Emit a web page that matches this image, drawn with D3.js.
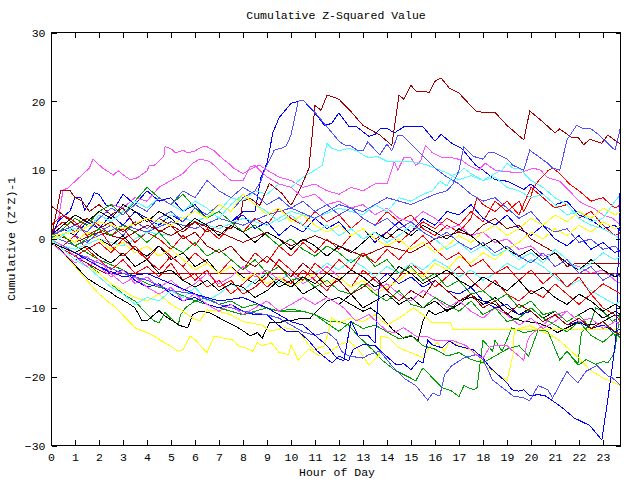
<!DOCTYPE html>
<html><head><meta charset="utf-8">
<script src="https://cdn.jsdelivr.net/npm/d3@7"></script>
<style>
html,body{margin:0;padding:0;background:#fff;}
svg text{font-family:"Liberation Mono","DejaVu Sans Mono",monospace;font-size:11.5px;fill:#000;}
</style></head>
<body><svg id="c" width="640" height="480"></svg>
<script>
// ---- data: [hour, cumulative (Z*Z)-1] ----
const title = "Cumulative Z-Squared Value";
const xLabel = "Hour of Day";
const yLabel = "Cumulative (Z*Z)-1";
const xTicks = d3.range(0, 24);
const yTicks = [-30, -20, -10, 0, 10, 20, 30];

const red1 = [[0,1],[0.5,2.5],[1,1],[1.5,3],[2,2],[2.5,0.5],[3,1.5],[3.5,-0.5],[4,1],[4.5,0],[5,-1.5],[5.5,0.5],[6,-1],[6.5,1.5],[7,0],[7.5,2],[8,1],[8.5,3],[9,2],[9.5,4.5],[10,3],[10.5,2],[11,4],[11.5,2.5],[12,3.5],[12.5,1.5],[13,3],[13.5,2],[14,4],[14.5,2.5],[15,3.5],[15.5,1.5],[16,0.5],[16.5,2],[17,1],[17.5,3],[17.75,6],[18,5],[18.5,4],[19,5.5],[19.5,3.5],[20,7.5],[20.5,6],[21,4.5],[21.5,5],[22,3],[22.5,4],[23,2],[23.5,0.5],[23.75,1]];
const green1 = [[0,0],[0.5,-1],[1,-2.5],[1.5,-3.5],[2,-5],[2.5,-6.5],[3,-8],[3.5,-9],[3.75,-10],[4.3,-11.9],[4.5,-12.2],[4.75,-10.7],[5.3,-12.5],[5.4,-11],[5.6,-10],[6,-9],[6.5,-8.5],[7,-9.5],[7.5,-9],[8,-10],[8.5,-9.5],[9,-10],[9.5,-10.5],[10.5,-10.5],[11,-11],[11.6,-12],[12,-12],[12.4,-12.5],[12.8,-14.1],[13.4,-16.1],[13.8,-17.6],[14.3,-19],[14.7,-19.7],[15.2,-20.6],[15.5,-18.7],[15.9,-20.2],[16.3,-21.6],[16.7,-22.1],[17,-22.9],[17.2,-21.3],[17.6,-21.9],[17.75,-21.6],[18,-14.7],[18.4,-16.3],[18.5,-14.7],[18.8,-16.3],[19.2,-12.9],[19.7,-13.6],[20.3,-13.2],[20.7,-13.4],[21.2,-17.6],[21.5,-16.3],[21.95,-18.3],[22.1,-13.6],[22.45,-12.5],[22.7,-10],[23,-10.5],[23.4,-12],[23.75,-11]];
const blue1 = [[0,0],[0.5,1.5],[1,0.5],[1.5,2.5],[2,1.5],[2.5,3.5],[3,2],[3.5,4],[4,3],[4.5,2],[5,3.5],[5.5,2.5],[6,4.5],[6.5,3],[7,4],[7.5,2.5],[8,4],[8.5,4],[8.75,9],[9,11],[9.25,15.5],[9.5,17.6],[10,19.7],[10.3,20],[10.5,20.2],[11,18.3],[11.4,16.5],[11.7,16.8],[11.95,18.1],[12,18.3],[12.4,16.4],[12.7,16.4],[13.25,14.9],[13.5,15.2],[13.75,16.1],[14,16.1],[14.3,15.4],[14.7,16.3],[15.5,16.3],[16,14.2],[16.25,15.2],[16.7,13.9],[17.1,13.2],[17.7,10.7],[18,10],[18.5,8.6],[19,8.4],[19.7,7.2],[20,8],[20.5,6.5],[21,5],[21.5,5.5],[22,3.5],[22.5,2.8],[23,1.5],[23.5,2],[23.75,1]];
const magenta1 = [[0,0],[0.3,2.6],[0.5,7.1],[0.7,7.4],[1.6,10.3],[1.75,11.6],[2.15,10.3],[2.6,9.3],[2.8,9.9],[3.1,9.1],[3.3,8.6],[3.6,8.9],[4,9.9],[4.1,10.7],[4.3,10.7],[4.5,11.3],[4.7,12],[4.75,13.4],[5,13.1],[5.2,12.5],[5.5,12.9],[5.7,12.5],[6,12.8],[6.3,13.4],[6.5,13.4],[6.8,12.8],[7.2,11.5],[7.4,11],[7.6,10.3],[8,9.5],[8.5,10.5],[8.7,10.7],[9,10],[9.5,9],[10,8.5],[10.5,7.5],[11,8],[11.5,7],[12,6.5],[12.5,7.5],[13,7],[13.5,8],[14,8],[14.2,10],[14.3,11.3],[14.45,10],[14.7,11.8],[15,11.8],[15.2,10.7],[15.4,11.3],[15.6,13.6],[15.9,12.5],[16.25,11.9],[16.7,11.8],[17.1,11.5],[17.4,10.7],[17.8,10],[18,10.7],[18.1,11],[18.5,10],[18.7,9.9],[19.5,9.6],[20.1,10.3],[20.4,10],[20.7,8.9],[21.2,8.4],[21.6,7],[22,5.5],[22.3,4.9],[22.6,4.5],[23,3.5],[23.4,3],[23.75,2]];
const cyan1 = [[0,0],[1,1.5],[2,0.5],[3,2],[4,1],[5,3.5],[6,2.5],[7,4],[7.5,6],[8,5.5],[8.5,7],[9,6.5],[9.5,8],[10,7.5],[10.5,9],[11,10],[11.3,10.7],[11.5,13.9],[11.7,13.2],[12,12.8],[12.4,13.2],[12.75,12.8],[13.1,12],[13.3,11.8],[13.6,12],[14,11.3],[14.9,11.3],[15.4,11],[15.7,10.7],[16,10.3],[16.5,9.6],[17,8.6],[17.5,9.2],[18,8.5],[18.5,9.5],[18.8,10],[19,11],[19.25,10.3],[19.5,10.3],[20,8.5],[20.5,7.5],[21,6],[21.5,5],[22,3],[22.5,2],[23,1.5],[23.5,0.5],[23.75,0]];
const darkRed1 = [[0,4.8],[0.5,3.5],[1,2],[1.5,3],[2,1.5],[2.5,2.5],[3,1],[3.5,2.5],[4,1.5],[4.5,3],[5,2],[5.5,1],[6,2.5],[6.5,1],[7,2],[7.5,1.5],[7.9,3.3],[8,5.5],[8.3,5.9],[8.7,4.9],[9.1,8.1],[9.6,6.7],[10,4.9],[10.4,7.4],[10.75,10.3],[11,19.4],[11.25,18.7],[11.5,20.9],[11.7,20.7],[12,20.3],[12.5,18.5],[13,16.5],[13.7,15.1],[14.2,13.6],[14.5,20.9],[14.7,20.3],[15,22.3],[15.2,21.5],[15.6,21.5],[15.75,21.2],[16,22.9],[16.25,23.4],[16.6,21.9],[17,21.2],[17.4,19.7],[17.7,18.6],[18,18.4],[18.5,18.4],[19,16.5],[19.7,14.4],[19.95,18.6],[20.5,17],[21,15.4],[21.2,16],[21.7,14.7],[21.95,14.8],[22.2,13.7],[22.45,14.5],[22.95,13.9],[23.2,15.1],[23.75,13.7]];
const yellow1 = [[0,0],[0.5,-2],[1,-4],[1.5,-6],[2,-8],[2.7,-10],[3.5,-12.9],[4,-13.6],[4.3,-14.1],[4.6,-14.8],[4.9,-15.4],[5.3,-16.3],[5.5,-16.1],[5.8,-14.1],[6,-14.6],[6.5,-16.5],[6.8,-14.1],[7.2,-14.4],[7.6,-14.7],[7.8,-15.5],[8.1,-15.8],[8.4,-16.3],[8.6,-15.1],[8.8,-15.5],[9.2,-15.1],[9.5,-16.5],[9.9,-16.8],[10,-15.4],[10.3,-17.6],[10.75,-16],[11.2,-17],[11.6,-16.5],[12,-15.4],[12.4,-14.8],[12.8,-16],[13.25,-18.3],[13.7,-16.8],[13.75,-14.1],[14.1,-14.4],[14.5,-15.8],[15.2,-16.8],[15.5,-17.3],[15.75,-15.8],[16.1,-15.1],[16.4,-16.3],[16.6,-14.8],[17,-15.5],[17.4,-16.1],[17.7,-16.5],[18,-18],[18.2,-18.7],[19,-20.6],[19.25,-16.8],[19.3,-13.4],[19.5,-13],[19.95,-12.6],[20.5,-13.5],[20.9,-14.1],[21.2,-14.8],[22,-17.3],[22.45,-19],[23,-20.2],[23.75,-21.3]];
const black1 = [[0,-0.6],[0.4,-1.5],[1,-3.8],[1.5,-5.7],[2,-6.8],[2.5,-7.8],[2.7,-8.3],[3.2,-9.3],[3.5,-10],[3.8,-11.9],[4,-11.9],[4.5,-10.4],[4.75,-11.2],[5.2,-12.2],[5.4,-12.6],[5.7,-12.9],[5.9,-11],[6.2,-10.5],[6.6,-10.7],[7.25,-11.9],[7.6,-12.5],[7.95,-13.2],[8.3,-14.1],[8.6,-13.6],[8.8,-14.4],[9.1,-12.2],[9.5,-12.2],[9.8,-11.8],[10.1,-11.8],[10.45,-11.5],[10.8,-11.5],[11.1,-10.4],[11.5,-9],[12,-8.5],[12.5,-9.5],[13,-10.5],[13.3,-10],[13.7,-11],[14.25,-13.2],[14.7,-14.4],[15,-14.1],[15.3,-14.7],[15.5,-11.9],[15.75,-10.4],[16,-11],[16.7,-10],[17,-9],[17.5,-8.5],[18,-9],[18.5,-9.5],[18.7,-10],[19.25,-11.5],[19.6,-11.9],[20.3,-12.2],[20.8,-12.9],[21.1,-13.6],[21.9,-12.2],[22.45,-12.5],[22.9,-12.2],[23.4,-11.2],[23.75,-11]];
const lightBlue1 = [[0,0],[0.5,-1],[1,0.5],[1.5,-0.5],[2,1],[2.5,2],[3,0.5],[3.5,2.5],[4,1.5],[4.5,3],[5,4],[5.5,2.5],[6,4.5],[6.5,3.5],[7,5],[7.5,4],[8,6],[8.5,7],[8.75,8.5],[8.9,10],[9.3,12.9],[9.6,13.2],[9.8,13.5],[10,15.1],[10.3,20],[10.5,20.2],[11,18.4],[12,14.2],[12.2,13.7],[12.5,13.5],[12.8,12.8],[13,12.8],[13.2,14.1],[13.7,12.2],[14,13.8],[14.2,12.8],[14.45,15.1],[14.65,15],[16,10.3],[16.5,9],[17,8],[17.5,6.5],[18,5.5],[18.5,6],[19,4.5],[19.5,3],[20,4],[20.5,2],[21,1],[21.5,1.5],[22,-0.5],[22.5,0],[23,-1.5],[23.5,-1],[23.75,-2]];

const red2 = [[0,0],[0.5,-1],[1,0.5],[1.5,-1.5],[2,-0.5],[2.5,-2],[3,0],[3.5,-1.5],[4,-3],[4.5,-1],[5,-2.5],[5.5,-4],[6,-2],[6.5,-3.5],[7,-5],[7.5,-3],[8,-4.5],[8.5,-2],[9,-3.5],[9.5,-1],[10,-2.5],[10.5,-0.5],[11,-2],[11.5,0],[12,-1.5],[12.5,0.5],[13,1.5],[13.5,0],[14,1],[14.5,-0.5],[15,1],[15.5,2.5],[16,1.5],[16.5,3],[17,2],[17.5,4],[18,2.5],[18.5,5.5],[19,4],[19.5,5.5],[19.7,4],[19.95,5.7],[20.1,7.4],[20.3,8.4],[20.7,9.9],[20.9,10.3],[21.2,9.5],[21.6,8],[22,7],[22.5,5.5],[23,6],[23.5,4.5],[23.75,5]];
const green2 = [[0,0.5],[1,-1],[2,-3],[3,-4.5],[4,-6.5],[5,-7.5],[6,-9],[7,-10],[7.5,-10.5],[8,-11],[9,-10],[9.5,-10.5],[10,-10.2],[10.5,-10.5],[11,-11],[11.6,-12.5],[12,-13.4],[12.5,-12],[13,-13],[13.5,-12.5],[14,-13.5],[14.5,-14.5],[15,-14],[15.5,-15.5],[16,-16],[16.5,-17],[17,-16.5],[17.5,-17.5],[18,-18],[18.5,-17],[19,-16],[19.5,-15.5],[19.9,-17],[20.3,-13.2],[20.7,-13.4],[21.2,-17.6],[21.5,-16.3],[22,-18.3],[22.3,-17.5],[22.7,-18.2],[23,-17.8],[23.2,-18],[23.4,-17],[23.5,-16],[23.75,-10]];
const blue2 = [[0,0],[0.3,2.6],[0.8,4.1],[1,6],[1.25,6],[1.4,4.2],[1.65,5.5],[1.8,6.7],[2,6.5],[2.3,4.9],[2.7,4.8],[3,6.5],[3.5,5],[4,7],[4.5,5.5],[5,6],[5.5,4],[6,5],[6.5,3],[7,4],[7.5,2.5],[8,3.5],[8.5,1.5],[9,2.5],[9.5,0.5],[10,2],[10.5,1],[11,3],[11.5,1.5],[12,2.5],[12.5,0.5],[13,1.5],[13.5,-0.5],[14,1],[14.5,2.5],[15,1],[15.5,3],[16,2],[16.5,4],[17,3.5],[17.5,5],[18,3],[18.5,2],[19,3.5],[19.5,1.5],[20,0.5],[20.5,2],[21,0],[21.5,-1],[22,0.5],[22.5,-1.5],[23,-0.5],[23.5,-2],[23.75,-1.5]];
const magenta2 = [[0,0.5],[0.5,1.5],[1,3],[1.5,2],[2,4],[2.5,5],[3,4.5],[3.5,6],[4,5.5],[4.5,7.5],[5,8.5],[5.5,9.5],[5.9,11],[6.2,11.6],[6.6,11.3],[6.8,10.7],[7,10],[7.5,8.5],[8,8.5],[8.3,10.5],[8.5,10.7],[8.7,10],[9,9],[9.5,8],[10,7.5],[10.5,6],[11,6.5],[11.5,5],[12,5.5],[12.5,4.5],[13,5],[13.5,3.5],[14,4.5],[14.5,3],[15,2.5],[15.5,4],[16,3],[16.5,1.5],[17,2],[17.5,0.5],[18,1],[18.5,-0.5],[19,0],[19.5,-1.5],[20,-1],[20.5,-2.5],[21,-2],[21.5,-3.5],[22,-4],[22.5,-5],[23,-4.5],[23.5,-6],[23.75,-6.5]];
const cyan2 = [[0,-0.5],[1,-1.5],[2,0],[3,-1],[4,1],[5,0.5],[6,2.5],[7,1.5],[8,3],[9,2],[10,4],[11,3],[12,4.5],[13,3.5],[13.5,5],[14,4],[14.5,6],[15,5.5],[15.5,6.5],[15.9,7],[16.2,8.4],[16.5,7.7],[16.75,9.3],[17,9.6],[17.2,10.3],[17.5,9.5],[18,8.5],[18.5,9],[19,7.5],[19.5,7],[20,6],[20.5,6.5],[21,5],[21.5,3.5],[22,4],[22.5,2.5],[23,3],[23.5,5.5],[23.75,6.5]];
const darkRed2 = [[0,0],[0.5,-1],[1,-2.5],[1.5,-3.5],[2,-4.5],[2.3,-5],[23.75,-5]];
const yellow2 = [[0,0],[0.5,-1.5],[1,-2.5],[1.5,-4],[2,-5],[2.5,-6.5],[3,-7.5],[3.5,-8.5],[4,-9],[4.5,-8],[5,-9.5],[5.5,-10.5],[5.9,-11.5],[6.2,-11.9],[6.5,-10.3],[7,-10.5],[7.5,-11],[8,-12],[8.8,-12.5],[9.1,-13.4],[9.75,-12.9],[10.3,-13.4],[10.75,-15.4],[10.95,-16.1],[11.4,-15.5],[11.7,-11.5],[12,-12.2],[12.5,-11.5],[13,-12],[13.5,-11],[14,-12.5],[14.5,-11.5],[15.1,-10],[15.5,-11],[15.9,-12.2],[16.65,-12.2],[16.75,-13.2],[23.75,-13.2]];
const black2 = [[0,0],[0.5,0.5],[1,-0.5],[1.5,1],[2,0],[2.5,-1],[3,0.5],[3.5,-1.5],[4,-2.5],[4.5,-1],[5,-3],[5.5,-2],[6,-4],[6.5,-3],[7,-5],[7.5,-4],[8,-5.5],[8.5,-6.5],[9,-5],[9.5,-7],[10,-6],[10.5,-8],[11,-7],[11.5,-8.5],[12,-9.5],[12.5,-8],[13,-10],[13.5,-9],[14,-8],[14.5,-9.5],[15,-8.5],[15.5,-10],[16,-9],[16.5,-10.5],[17,-9.5],[17.5,-8],[18,-9.5],[18.5,-8.5],[19,-10],[19.5,-11],[20,-10],[20.5,-11.5],[21,-10.5],[21.5,-12],[22,-11],[22.5,-10],[23,-11.5],[23.5,-10.5],[23.75,-11]];
const lightBlue2 = [[0,0.5],[1,-1],[2,0.5],[3,2],[4,1],[5,2.5],[6,1.5],[7,3],[8,2],[9,3.5],[10,4.5],[11,3],[12,5],[13,4],[14,6],[15,5],[16,6.5],[16.5,7],[16.75,8],[17,10],[17.2,13.4],[17.6,12],[18,11.6],[18.2,12.5],[18.5,12.5],[19,11.6],[19.25,10.7],[19.7,10],[19.95,12.9],[20.7,11],[20.9,10.3],[21.2,10],[21.5,14.4],[21.9,16.5],[22.2,16],[22.5,16],[22.8,15.2],[23.2,13.9],[23.5,12.9],[23.75,16.5]];

const red3 = [[0,0],[0.5,-1.5],[1,-2.5],[1.5,-1.5],[2,-3],[2.5,-4.5],[3,-3],[3.5,-5],[4,-4],[4.5,-5.5],[5,-3.5],[5.5,-6],[6,-5],[6.5,-7],[7,-6],[7.5,-8],[8,-6.5],[8.5,-5],[9,-7],[9.5,-5.5],[10,-6.5],[10.5,-4.5],[11,-6],[11.5,-7.5],[12,-5.5],[12.5,-7],[13,-4.5],[13.5,-6],[14,-7.5],[14.5,-5.5],[15,-3.5],[15.5,-5],[16,-7],[16.5,-5.5],[17,-4],[17.5,-6],[18,-7.5],[18.5,-6],[19,-8],[19.5,-9],[20,-7.5],[20.5,-8.5],[21,-6.5],[21.5,-8],[22,-9.5],[22.5,-8],[23,-10],[23.5,-11],[23.75,-12]];
const green3 = [[0,0],[0.5,1.5],[1,3],[1.5,2],[2,4],[2.5,5],[3,3.5],[3.5,5.5],[4,7.5],[4.5,6],[5,5],[5.5,6.5],[6,4.5],[6.5,3],[7,4],[7.5,2.5],[8,1],[8.5,2],[9,0.5],[9.5,-1],[10,0],[10.5,-1.5],[11,-2.5],[11.5,-1],[12,-2],[12.5,-3.5],[13,-2],[13.5,-4],[14,-3],[14.5,-5],[15,-4],[15.5,-6],[16,-5],[16.5,-7],[17,-6],[17.5,-8],[18,-7.5],[18.5,-9],[19,-8],[19.5,-10],[20,-9],[20.5,-11],[21,-10.5],[21.5,-12],[22,-11],[22.5,-13],[23,-12],[23.5,-14],[23.75,-13.5]];
const blue3 = [[0,0],[0.5,-1.5],[1,-3],[1.5,-2.5],[2,-4],[2.5,-5],[3,-4.5],[3.5,-6],[4,-7],[4.5,-6.5],[5,-8],[5.5,-9],[6,-8.5],[6.5,-9.5],[7,-10],[7.5,-9.5],[8,-10.5],[8.5,-11],[9,-11],[9.5,-12.6],[9.8,-13.4],[10.3,-13.4],[10.75,-14.8],[11.1,-16.3],[11.7,-18],[12,-17],[12.4,-17.7],[12.6,-16],[13,-15.3],[13.5,-15.5],[13.9,-16.8],[14.4,-18.3],[14.7,-18.1],[15,-19],[15.3,-17.7],[15.5,-18],[15.7,-14.7],[15.9,-15.4],[16.3,-15.8],[16.6,-14.8],[16.9,-15.5],[17.6,-16.1],[18,-17.3],[18.3,-18.7],[19,-20.9],[19.2,-21.9],[19.5,-22.1],[19.7,-21.9],[19.95,-22.8],[20.3,-22.6],[20.6,-22.8],[20.9,-23.5],[21.3,-24.5],[21.8,-26],[22.45,-27.1],[22.95,-29.2],[23.15,-24.5],[23.4,-18.3],[23.55,-13.9],[23.75,12]];
const magenta3 = [[0,-0.5],[0.5,-2],[1,-3.5],[1.5,-2.5],[2,-4],[2.5,-5.5],[3,-4.5],[3.5,-6.5],[4,-5.5],[4.5,-7],[5,-6],[5.5,-7.5],[6,-6.5],[6.5,-5],[7,-6.5],[7.5,-5.5],[8,-4],[8.5,-5.5],[9,-4.5],[9.5,-6],[10,-5],[10.5,-6.5],[11,-5.5],[11.5,-4],[12,-5.5],[12.5,-7],[13,-6],[13.5,-7.5],[14,-6.5],[14.5,-8],[15,-9],[15.5,-7.5],[16,-8.5],[16.5,-10],[17,-9],[17.5,-10.5],[18,-11.5],[18.5,-10],[19,-11],[19.5,-12.5],[20,-11.5],[20.5,-13],[21,-12],[21.5,-10.5],[22,-12],[22.5,-13],[23,-12],[23.5,-13.5],[23.75,-13]];
const cyan3 = [[0,0],[0.5,-1.5],[1,-3],[1.5,-4],[2,-5.5],[2.5,-7],[3,-8],[3.5,-9.5],[4,-8.5],[4.5,-9],[5,-7.5],[5.5,-8.5],[6,-7],[6.5,-9],[7,-8],[7.5,-6.5],[8,-7.5],[8.5,-6],[9,-5],[9.5,-6.5],[10,-4.5],[10.5,-6],[11,-5],[11.5,-3.5],[12,-4.5],[12.5,-3],[13,-4],[13.5,-5.5],[14,-4],[14.5,-5],[15,-3.5],[15.5,-4.5],[16,-3],[16.5,-4],[17,-5.5],[17.5,-4.5],[18,-6],[18.5,-5],[19,-3.5],[19.5,-4.5],[20,-3],[20.5,-4],[21,-5.5],[21.5,-7],[22,-6],[22.5,-7.5],[23,-8.5],[23.5,-9.5],[23.75,-9]];
const darkRed3 = [[0,1],[1,-0.5],[2,1],[3,0],[4,2],[5,0.5],[6,2.5],[7,1],[8,-0.5],[9,1],[10,-1],[11,0.5],[12,-1],[13,-2.5],[14,-1],[15,-2],[16,0],[17,1],[17.5,0.5],[18,2],[18.5,3],[19,1.5],[19.5,2],[20,0],[20.5,-1],[21,-2],[21.5,-4],[21.9,-3.5],[23.75,-3.5]];
const yellow3 = [[0,0],[0.5,0.5],[1,-0.5],[1.5,1],[2,0],[2.5,-1.5],[3,-0.5],[3.5,-2],[4,-1],[4.5,-2.5],[5,-1.5],[5.5,-3],[6,-4.5],[6.5,-3.5],[7,-5],[7.5,-4],[8,-6],[8.5,-5],[9,-6.5],[9.5,-5.5],[10,-7],[10.5,-6],[11,-5],[11.5,-6.5],[12,-5.5],[12.5,-7],[13,-6],[13.5,-8],[14,-7],[14.5,-6],[15,-4.5],[15.5,-5.5],[16,-3.5],[16.5,-4.5],[17,-2.5],[17.5,-3.5],[18,-2],[18.5,-3],[19,-1.5],[19.5,-0.5],[20,1],[20.5,0],[21,1.5],[21.5,0.5],[22,2],[22.5,1],[23,2.5],[23.5,1.5],[23.75,2]];
const black3 = [[0,0.5],[0.5,2],[1,3.5],[1.5,2.5],[2,4],[2.5,3],[3,5],[3.5,4],[4,2.5],[4.5,4],[5,3],[5.5,1.5],[6,3],[6.5,2],[7,0.5],[7.5,2],[8,1],[8.5,-0.5],[9,1],[9.5,0],[10,-1.5],[10.5,0],[11,-1],[11.5,-2.5],[12,-1],[12.5,-2],[13,-0.5],[13.5,1],[14,0],[14.5,1.5],[15,0.5],[15.5,2],[16,1],[16.5,0],[17,1.5],[17.5,0.5],[18,-1],[18.5,0],[19,-1.5],[19.5,-2.5],[20,-1.5],[20.5,-3],[21,-2],[21.5,-3.5],[22,-4.5],[22.5,-3],[23,-4.5],[23.5,-5.5],[23.75,-5]];
const lightBlue3 = [[0,0],[1,-2],[2,-3.5],[3,-5],[4,-6],[5,-7.5],[6,-8],[7,-9.5],[8,-10.5],[9,-11],[9.5,-11.5],[10,-12.5],[10.5,-13.5],[11,-14],[11.5,-13.5],[11.9,-14.7],[12.1,-16.3],[12.4,-17],[13,-17.3],[13.25,-16.8],[13.7,-16.3],[14.2,-18.4],[14.7,-20.2],[15.2,-21.3],[15.7,-23.4],[15.9,-22.4],[16.2,-22.8],[16.4,-19.7],[16.7,-18.4],[17.2,-17.3],[17.7,-16.8],[18,-17.5],[18.4,-20.5],[19,-22.1],[19.25,-22.8],[19.7,-23.1],[19.95,-23.5],[20.3,-21.3],[20.7,-21.9],[20.9,-23.1],[21.5,-19.2],[21.6,-19.7],[21.95,-20.9],[22.3,-19.2],[22.75,-18.4],[23.2,-19.9],[23.4,-20.2],[23.75,-21.3]];

const red4 = [[0,2],[0.5,3.5],[1,2.5],[1.5,0.5],[2,1.5],[2.5,-1],[3,-2.5],[3.5,-1],[4,-3],[4.5,-4.5],[5,-2.5],[5.5,-4],[6,-6],[6.5,-4.5],[7,-7],[7.5,-6],[8,-8],[8.5,-7],[9,-5.5],[9.5,-3],[10,-4.5],[10.5,-6],[11,-3.5],[11.5,-5],[12,-3],[12.5,-4.5],[13,-2],[13.5,-3.5],[14,-1.5],[14.5,-3],[15,-1],[15.5,0.5],[16,-1.5],[16.5,-3],[17,-2],[17.5,-4],[18,-3],[18.5,-5],[19,-4],[19.5,-6],[20,-4.5],[20.5,-6.5],[21,-5],[21.5,-7],[22,-5.5],[22.5,-8],[23,-6.5],[23.5,-7.5],[23.75,-8]];
const green4 = [[0,-0.5],[0.5,0.5],[1,-1],[1.5,0],[2,1.5],[2.5,0.5],[3,2],[3.5,1],[4,-0.5],[4.5,1],[5,-1],[5.5,-2],[6,-0.5],[6.5,-2.5],[7,-1.5],[7.5,-3],[8,-4.5],[8.5,-3],[9,-5],[9.5,-4],[10,-6],[10.5,-5.5],[11,-7],[11.5,-6],[12,-7.5],[12.5,-8],[13,-6.5],[13.5,-8],[14,-9],[14.5,-7.5],[15,-9.5],[15.5,-10],[16,-8.5],[16.5,-9.5],[17,-10.5],[17.5,-9],[18,-11],[18.5,-10],[19,-12],[19.5,-11.5],[20,-10],[20.5,-11.5],[21,-12.5],[21.5,-13.5],[22,-12],[22.5,-14],[23,-15],[23.5,-13.5],[23.75,-14.5]];
const blue4 = [[0,-0.5],[1,-2],[2,-4],[3,-5.5],[4,-5],[5,-6.5],[6,-8],[7,-9],[8,-8.5],[9,-10],[9.5,-11],[10,-12],[10.5,-12.5],[11,-14],[11.5,-15.5],[11.9,-17.3],[12.2,-17.7],[12.5,-11.9],[12.6,-12.6],[12.8,-14.1],[13.2,-14],[13.5,-15.1],[13.6,-10],[13.7,-6],[14,-5],[14.5,-6.5],[15,-5.5],[15.5,-7],[16,-6],[16.5,-7.5],[17,-8],[17.5,-7],[18,-9],[18.5,-10],[19,-9.5],[19.5,-11],[20,-10.5],[20.5,-12],[21,-11],[21.5,-12.5],[22,-12],[22.5,-13],[23,-12.5],[23.5,-13.5],[23.75,-13]];
const magenta4 = [[0,0],[0.5,-1],[1,-2.5],[1.5,-4],[2,-3],[2.5,-5],[3,-6.5],[3.5,-5.5],[4,-7],[4.5,-8],[5,-7],[5.5,-9],[6,-8],[6.5,-9.5],[7,-10.5],[7.5,-9.5],[8,-11],[8.5,-10],[9,-9],[9.5,-10.5],[10,-9.5],[10.5,-8.5],[11,-9.5],[11.5,-8.5],[12,-9.5],[12.2,-10],[12.7,-11.9],[13.25,-11],[14,-13.4],[14.3,-13.6],[14.7,-12.9],[15.2,-14.1],[15.6,-14.1],[16,-14.7],[16.7,-14.7],[17.3,-15.5],[17.7,-16.8],[18,-17.3],[18.3,-15.6],[18.7,-15.4],[19,-15.5],[19.25,-16.3],[19.7,-17.6],[19.85,-14.8],[20,-13.9],[20.5,-12.5],[21,-11],[21.5,-10.5],[22,-12],[22.5,-11.5],[23,-13],[23.5,-12],[23.75,-12.5]];
const cyan4 = [[0,-0.5],[0.5,0.5],[1,2],[1.5,1],[2,3.5],[2.5,2.5],[3,4],[3.5,5.5],[4,4.5],[4.5,6],[5,5],[5.5,4],[6,5.5],[6.5,4.5],[7,3],[7.5,5],[8,6.5],[8.5,5],[9,4],[9.5,2.5],[10,3.5],[10.5,2],[11,1],[11.5,2],[12,0.5],[12.5,1.5],[13,0],[13.5,1],[14,-0.5],[14.5,0.5],[15,2],[15.5,1],[16,0],[16.5,-1.5],[17,-0.5],[17.5,-2],[18,-1],[18.5,-2.5],[19,-1.5],[19.5,-3],[20,-2],[20.5,-3.5],[21,-1.5],[21.5,-3],[22,-4.5],[22.5,-3.5],[23,-2],[23.5,-3],[23.75,-2.5]];
const darkRed4 = [[0,0],[0.4,7],[0.8,7],[1,6],[1.3,5.5],[1.6,4],[2,5],[2.5,3.5],[3,4.5],[3.5,2],[4,3],[4.5,1],[5,2],[5.5,0],[6,1],[6.5,-1],[7,-2],[7.5,-1],[8,-3],[8.5,-4],[9,-2.5],[9.5,-4],[10,-5.5],[10.5,-3.5],[11,-5],[11.5,-7],[12,-6],[12.5,-8],[13,-7],[13.5,-5.5],[14,-7.5],[14.5,-9],[15,-7.5],[15.5,-8.5],[16,-6],[16.5,-7.5],[17,-9],[17.5,-8],[18,-10],[18.5,-9],[19,-11],[19.5,-9.5],[20,-10.5],[20.5,-12],[21,-11],[21.5,-12.5],[22,-11.5],[22.5,-13],[23,-12],[23.5,-13.5],[23.75,-14]];
const yellow4 = [[0,0.5],[1,1],[2,2.5],[3,1.5],[4,3],[5,2],[6,4],[6.5,3],[7,5],[7.5,4],[8,6.5],[8.5,5],[9,3.5],[9.5,4.5],[10,2.5],[10.5,3.5],[11,2],[11.5,1],[12,2],[12.5,0.5],[13,1.5],[13.5,0],[14,-1],[14.5,0],[15,-1.5],[15.5,-0.5],[16,-2],[16.5,-1],[17,0.5],[17.5,-0.5],[18,1],[18.5,2],[19,0.5],[19.5,1.5],[20,3],[20.5,2],[21,3.5],[21.5,2.5],[22,4],[22.5,3],[23,4.5],[23.5,3.5],[23.75,4]];
const black4 = [[0,-0.5],[1,-2],[1.5,-1],[2,-2.5],[2.5,-3.5],[3,-2],[3.5,-4],[4,-3],[4.5,-5],[5,-4.5],[5.5,-6],[6,-7],[6.5,-6],[7,-7.5],[7.5,-6.5],[8,-7],[8.5,-8.5],[9,-7.5],[9.5,-6],[10,-7],[10.5,-5.5],[11,-6.5],[11.5,-5],[12,-6],[12.5,-4.5],[13,-5.5],[13.5,-7],[14,-6],[14.5,-4],[15,-5],[15.5,-6.5],[16,-5.5],[16.5,-4.5],[17,-6],[17.5,-7],[18,-5.5],[18.5,-6.5],[19,-7.5],[19.5,-6],[20,-8],[20.5,-7],[21,-8.5],[21.5,-9.5],[22,-8],[22.5,-9],[23,-10.5],[23.5,-9.5],[23.75,-10]];
const lightBlue4 = [[0,0.5],[1,2],[1.5,1],[2,3],[2.5,4.5],[3,3.5],[3.5,5],[4,4],[4.5,6],[5,5],[5.5,7],[6,6],[6.5,8.5],[7,7],[7.5,6],[8,7.5],[8.5,6.5],[9,5],[9.5,6],[10,4.5],[10.5,5.5],[11,4],[11.5,5],[12,3.5],[12.5,4.5],[13,3],[13.5,2],[14,3],[14.5,1.5],[15,2.5],[15.5,1],[16,0],[16.5,1],[17,-0.5],[17.5,-1.5],[18,-0.5],[18.5,-2],[19,-1],[19.5,-2.5],[20,-3.5],[20.5,-2],[21,-4],[21.5,-3],[22,-5],[22.5,-4],[23,-6],[23.5,-5],[23.75,-5.5]];

const series = [red1, green1, blue1, magenta1, cyan1, darkRed1, yellow1, black1, lightBlue1,
                red2, green2, blue2, magenta2, cyan2, darkRed2, yellow2, black2, lightBlue2,
                red3, green3, blue3, magenta3, cyan3, darkRed3, yellow3, black3, lightBlue3,
                red4, green4, blue4, magenta4, cyan4, darkRed4, yellow4, black4, lightBlue4];
const palette = ["#ff0000", "#00a000", "#0000ff", "#ff50ff", "#50ffff", "#a00000", "#ffff00", "#000000", "#5050ff"];

// ---- drawing ----
const svg = d3.select("#c");
const L = 51, R = 621, T = 32, B = 445.5;
const x = d3.scaleLinear().domain([0, 23.75]).range([L, R]);
const y = d3.scaleLinear().domain([-30, 30]).range([B, T + 0.5]);

svg.append("rect").attr("width", 640).attr("height", 480).attr("fill", "#fff");

const line = d3.line().x(d => x(d[0])).y(d => y(d[1]));
svg.append("g").selectAll("path").data(series).join("path")
  .attr("d", line)
  .attr("fill", "none")
  .attr("stroke", (d, i) => palette[i % palette.length])
  .attr("stroke-width", 1)
  .attr("shape-rendering", "crispEdges");

// frame
svg.append("rect").attr("x", L + 0.5).attr("y", T + 0.5).attr("width", R - L - 1).attr("height", B - T - 1)
  .attr("fill", "none").attr("stroke", "#000").attr("shape-rendering", "crispEdges");

function styleAxis(g) {
  g.select(".domain").remove();
  g.selectAll("line").attr("stroke", "#000").attr("shape-rendering", "crispEdges");
  g.selectAll("text").attr("font-family", null).attr("font-size", null);
}
svg.append("g").attr("transform", `translate(0,${B - 0.5})`)
  .call(d3.axisBottom(x).tickValues(xTicks).tickFormat(d3.format("d")).tickSize(-5).tickPadding(8))
  .call(styleAxis);
svg.append("g").attr("transform", `translate(0,${T + 0.5})`)
  .call(d3.axisTop(x).tickValues(xTicks).tickFormat("").tickSize(-5))
  .call(styleAxis);
svg.append("g").attr("transform", `translate(${L + 0.5},0)`)
  .call(d3.axisLeft(y).tickValues(yTicks).tickFormat(d3.format("d")).tickSize(-5).tickPadding(6))
  .call(styleAxis);
svg.append("g").attr("transform", `translate(${R - 0.5},0)`)
  .call(d3.axisRight(y).tickValues(yTicks).tickFormat("").tickSize(-5))
  .call(styleAxis);

svg.append("text").attr("x", 336).attr("y", 19).attr("text-anchor", "middle").text(title);
svg.append("text").attr("x", 337).attr("y", 476).attr("text-anchor", "middle").text(xLabel);
svg.append("text").attr("transform", "translate(15,239) rotate(-90)").attr("text-anchor", "middle").text(yLabel);
</script></body></html>
